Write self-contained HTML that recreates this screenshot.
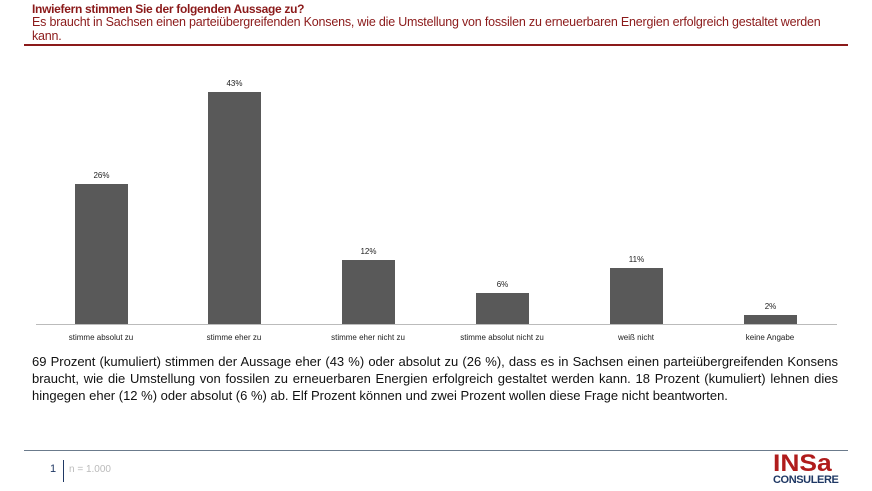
<!DOCTYPE html>
<html><head><meta charset="utf-8"><style>
body{margin:0;width:872px;height:491px;background:#fff;font-family:"Liberation Sans",sans-serif;position:relative;overflow:hidden}
.a{position:absolute}
.bar{position:absolute;background:#595959;width:53px}
.pl{position:absolute;font-size:8px;color:#222;width:53px;text-align:center}
.xl{position:absolute;font-size:8px;color:#222;width:134px;text-align:center;top:333px}
</style></head><body>
<div class="a" style="left:32px;top:2px;font-size:12px;font-weight:bold;color:#8b1a1a;letter-spacing:-0.3px">Inwiefern stimmen Sie der folgenden Aussage zu?</div>
<div class="a" style="left:32px;top:15px;width:812px;font-size:12.5px;line-height:14px;color:#8b1a1a;letter-spacing:-0.2px">Es braucht in Sachsen einen parteiübergreifenden Konsens, wie die Umstellung von fossilen zu erneuerbaren Energien erfolgreich gestaltet werden kann.</div>
<div class="a" style="left:24px;top:44px;width:824px;height:2px;background:#8b1a1a"></div>

<div class="a" style="left:36px;top:324px;width:801px;height:1px;background:#bbb"></div>
<div class="bar" style="left:75px;top:184px;height:140px"></div><div class="pl" style="left:75px;top:171px">26%</div>
<div class="bar" style="left:208px;top:92px;height:232px"></div><div class="pl" style="left:208px;top:79px">43%</div>
<div class="bar" style="left:342px;top:260px;height:64px"></div><div class="pl" style="left:342px;top:247px">12%</div>
<div class="bar" style="left:476px;top:293px;height:31px"></div><div class="pl" style="left:476px;top:280px">6%</div>
<div class="bar" style="left:610px;top:268px;height:56px"></div><div class="pl" style="left:610px;top:255px">11%</div>
<div class="bar" style="left:744px;top:315px;height:9px"></div><div class="pl" style="left:744px;top:302px">2%</div>
<div class="xl" style="left:34px">stimme absolut zu</div>
<div class="xl" style="left:167px">stimme eher zu</div>
<div class="xl" style="left:301px">stimme eher nicht zu</div>
<div class="xl" style="left:435px">stimme absolut nicht zu</div>
<div class="xl" style="left:569px">weiß nicht</div>
<div class="xl" style="left:703px">keine Angabe</div>

<div class="a" style="left:32px;top:353px;width:806px;font-size:13px;line-height:17px;color:#111;text-align:justify">69 Prozent (kumuliert) stimmen der Aussage eher (43 %) oder absolut zu (26 %), dass es in Sachsen einen parteiübergreifenden Konsens braucht, wie die Umstellung von fossilen zu erneuerbaren Energien erfolgreich gestaltet werden kann. 18 Prozent (kumuliert) lehnen dies hingegen eher (12 %) oder absolut (6 %) ab. Elf Prozent können und zwei Prozent wollen diese Frage nicht beantworten.</div>

<div class="a" style="left:24px;top:450px;width:824px;height:1px;background:#6b7b8c"></div>
<div class="a" style="left:50px;top:463px;font-size:11px;color:#1f3864">1</div>
<div class="a" style="left:63px;top:460px;width:1px;height:22px;background:#1f3864"></div>
<div class="a" style="left:69px;top:464px;font-size:10px;color:#bbb">n = 1.000</div>
<div class="a" style="left:773px;top:450px;font-size:24px;font-weight:bold;color:#b01c1c;letter-spacing:0px;transform:scaleX(1.1);transform-origin:left">INSa</div>
<div class="a" style="left:773px;top:474px;font-size:11px;font-weight:bold;color:#1f3864;letter-spacing:-0.4px">CONSULERE</div>
</body></html>
